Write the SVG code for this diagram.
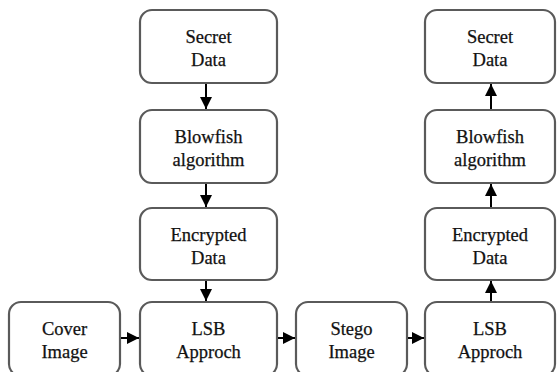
<svg xmlns="http://www.w3.org/2000/svg" width="557" height="372" viewBox="0 0 557 372">
  <style>
    .box { fill: #ffffff; stroke: #5a5a5a; stroke-width: 2.2; }
    .lbl { font-size: 18.5px; fill: #111111; stroke: #111111; stroke-width: 0.25; text-anchor: middle; }
    .wire { stroke: #000000; stroke-width: 2; fill: none; }
  </style>
  <defs>
    <marker id="head" viewBox="0 0 10 10" refX="10" refY="5" markerWidth="6" markerHeight="6" orient="auto" markerUnits="strokeWidth">
      <path d="M0,0 L10,5 L0,10 Z" fill="#000000"/>
    </marker>
  </defs>
  <rect width="557" height="372" fill="#ffffff"/>

  <g font-family="Liberation Serif, Times New Roman, serif">
  <!-- encoding side -->
  <g id="secret-in">
    <rect class="box" x="140" y="10" width="137" height="73" rx="12"/>
    <text class="lbl" x="208.5" y="43">Secret</text>
    <text class="lbl" x="208.5" y="66">Data</text>
  </g>
  <g id="blowfish-enc">
    <rect class="box" x="140" y="110" width="137" height="73" rx="12"/>
    <text class="lbl" x="208.5" y="143">Blowfish</text>
    <text class="lbl" x="208.5" y="166">algorithm</text>
  </g>
  <g id="encrypted-enc">
    <rect class="box" x="140" y="208" width="137" height="72" rx="12"/>
    <text class="lbl" x="208.5" y="241">Encrypted</text>
    <text class="lbl" x="208.5" y="264">Data</text>
  </g>
  <g id="lsb-embed">
    <rect class="box" x="140" y="302" width="137" height="74" rx="12"/>
    <text class="lbl" x="208.5" y="335">LSB</text>
    <text class="lbl" x="208.5" y="358">Approch</text>
  </g>
  <g id="cover">
    <rect class="box" x="9" y="302" width="111" height="74" rx="12"/>
    <text class="lbl" x="64.5" y="335">Cover</text>
    <text class="lbl" x="64.5" y="358">Image</text>
  </g>
  <g id="stego">
    <rect class="box" x="296" y="302" width="111" height="74" rx="12"/>
    <text class="lbl" x="351.5" y="335">Stego</text>
    <text class="lbl" x="351.5" y="358">Image</text>
  </g>

  <!-- decoding side -->
  <g id="lsb-extract">
    <rect class="box" x="425" y="302" width="130" height="74" rx="12"/>
    <text class="lbl" x="490" y="335">LSB</text>
    <text class="lbl" x="490" y="358">Approch</text>
  </g>
  <g id="encrypted-dec">
    <rect class="box" x="425" y="208" width="130" height="72" rx="12"/>
    <text class="lbl" x="490" y="241">Encrypted</text>
    <text class="lbl" x="490" y="264">Data</text>
  </g>
  <g id="blowfish-dec">
    <rect class="box" x="425" y="110" width="130" height="73" rx="12"/>
    <text class="lbl" x="490" y="143">Blowfish</text>
    <text class="lbl" x="490" y="166">algorithm</text>
  </g>
  <g id="secret-out">
    <rect class="box" x="425" y="10" width="130" height="73" rx="12"/>
    <text class="lbl" x="490" y="43">Secret</text>
    <text class="lbl" x="490" y="66">Data</text>
  </g>
  </g>

  <g id="connectors">
    <line class="wire" x1="206" y1="84" x2="206" y2="109" marker-end="url(#head)"/>
    <line class="wire" x1="206" y1="184" x2="206" y2="207" marker-end="url(#head)"/>
    <line class="wire" x1="206" y1="281" x2="206" y2="301" marker-end="url(#head)"/>
    <line class="wire" x1="121" y1="338" x2="139" y2="338" marker-end="url(#head)"/>
    <line class="wire" x1="278" y1="338" x2="295" y2="338" marker-end="url(#head)"/>
    <line class="wire" x1="408" y1="338" x2="424" y2="338" marker-end="url(#head)"/>
    <line class="wire" x1="491" y1="301" x2="491" y2="281" marker-end="url(#head)"/>
    <line class="wire" x1="491" y1="207" x2="491" y2="184" marker-end="url(#head)"/>
    <line class="wire" x1="491" y1="109" x2="491" y2="84" marker-end="url(#head)"/>
  </g>
</svg>
